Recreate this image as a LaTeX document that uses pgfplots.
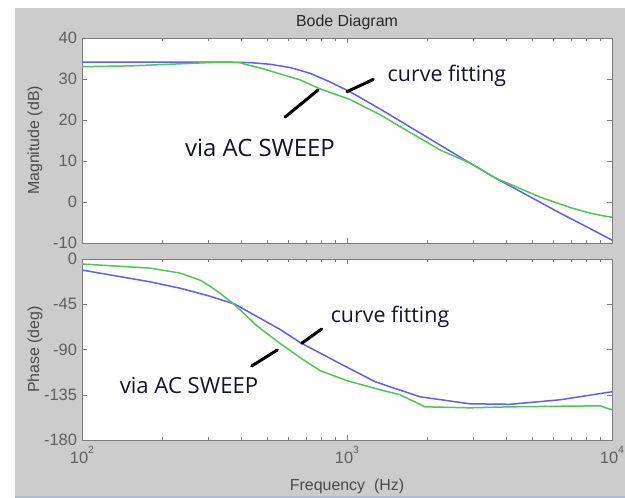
\documentclass[border=0pt]{standalone}
\usepackage{fontspec}
\setmainfont{Liberation Sans}
\newfontfamily\annfont{Open Sans}
\usepackage{pgfplots}
\pgfplotsset{compat=1.18}

\definecolor{bggray}{RGB}{204,204,204}
\definecolor{tickgray}{RGB}{95,95,95}
\definecolor{labelgray}{RGB}{75,75,75}
\definecolor{titlegray}{RGB}{40,40,40}
\definecolor{framegray}{RGB}{125,125,125}
\definecolor{fitblue}{RGB}{95,95,240}
\definecolor{acgreen}{RGB}{85,195,85}
\definecolor{anntext}{RGB}{20,20,40}
\definecolor{edgeblue}{RGB}{175,190,205}

\newcommand\tpow[1]{10\raisebox{1.1ex}{\fontsize{10.5}{10}\selectfont #1}}

\tikzset{
  ann/.style={anchor=base, text=anntext, font=\annfont\fontsize{21.5}{22}\selectfont},
  ptr/.style={line width=3bp, line cap=round, black},
}

\begin{document}
\begin{tikzpicture}
\path[use as bounding box] (0,0) rectangle (625bp,-498bp);
\fill[white] (0,0) rectangle (625bp,-498bp);
\fill[bggray] (15bp,-8bp) rectangle (625bp,-496bp);
\fill[edgeblue] (15bp,-496bp) rectangle (625bp,-498bp);

% magnitude
\begin{axis}[
  at={(82bp,-243bp)}, anchor=south west,
  scale only axis, width=530bp, height=205bp,
  xmode=log, xmin=100, xmax=10000,
  xtick={100,1000,10000},
  minor xtick={200,300,400,500,600,700,800,900,2000,3000,4000,5000,6000,7000,8000,9000},
  axis background/.style={fill=white},
  axis line style={framegray},
  every tick/.style={framegray},
  tick align=inside, major tick length=5bp, minor tick length=3bp,
  tick label style={font=\fontsize{16.5}{17}\selectfont, text=tickgray},
  yticklabel style={xshift=-1.5bp},
  label style={font=\fontsize{16}{18}\selectfont, text=labelgray},
  ylabel style={at={(axis description cs:-0.0887,0.5)}, anchor=center},
  ymin=-10, ymax=40, ytick={-10,0,10,20,30,40},
  yticklabels={-10,0,10,20,30,40},
  xticklabels={},
  ylabel={Magnitude (dB)},
  title={Bode Diagram},
  every axis title shift=0pt,
  title style={at={(axis description cs:0.5,1.054)}, anchor=base,
    font=\fontsize{16}{18}\selectfont, text=titlegray},
]
\addplot[fitblue, line width=1.5bp] coordinates {
  (100,34.1) (150,34.1) (250,34.1) (362,34.1) (430,34.0) (512,33.6)
  (610,32.8) (725,31.4) (862,29.3) (1026,26.9)
  (1332,22.7) (1518,20.5) (2244,13.9) (2912,9.5) (3619,5.9) (4500,2.6)
  (6364,-2.7) (8000,-6.0) (10000,-9.3)};
\addplot[acgreen, line width=1.5bp] coordinates {
  (100,33.0) (152,33.2) (234,33.7) (300,34.0) (362,34.1) (395,34.0)
  (412,33.6) (470,32.7) (610,30.5) (665,29.8) (791,27.6) (1026,25.0)
  (1332,21.3) (1585,18.4) (2244,12.7) (2912,9.5) (3619,5.9) (5349,1.2)
  (7000,-1.4) (8260,-2.7) (9300,-3.4) (10000,-3.7)};
\draw[ptr] (axis cs:583.6,20.7) -- (axis cs:777,27.3);
\draw[ptr] (axis cs:999,26.9) -- (axis cs:1257,29.9);
\node[ann] at (axis cs:2383,29.5) {curve fitting};
\node[ann, font=\annfont\fontsize{24}{24}\selectfont] at (axis cs:469.5,11.2) {via AC SWEEP};
\end{axis}

% phase
\begin{axis}[
  at={(82bp,-440bp)}, anchor=south west,
  scale only axis, width=530bp, height=181bp,
  xmode=log, xmin=100, xmax=10000,
  xtick={100,1000,10000},
  minor xtick={200,300,400,500,600,700,800,900,2000,3000,4000,5000,6000,7000,8000,9000},
  axis background/.style={fill=white},
  axis line style={framegray},
  every tick/.style={framegray},
  tick align=inside, major tick length=5bp, minor tick length=3bp,
  tick label style={font=\fontsize{16.5}{17}\selectfont, text=tickgray},
  yticklabel style={xshift=-1.5bp},
  label style={font=\fontsize{16}{18}\selectfont, text=labelgray},
  ylabel style={at={(axis description cs:-0.0887,0.5)}, anchor=center},
  ymin=-180, ymax=0, ytick={-180,-135,-90,-45,0},
  yticklabels={-180,-135,-90,-45,0},
  xticklabels={\tpow{2},\tpow{3},\tpow{4}},
  xticklabel style={yshift=-3bp},
  ylabel={Phase (deg)},
  xlabel={Frequency\ \ (Hz)},
  xlabel style={at={(axis description cs:0.5,-0.254)}, anchor=center},
]
\addplot[fitblue, line width=1.5bp] coordinates {
  (100,-11) (180,-22.6) (234,-29) (304,-37) (378,-45) (559,-70)
  (665,-83) (941,-104) (1275,-122) (1886,-137) (2912,-144) (4123,-144.5)
  (6364,-140) (10000,-132)};
\addplot[acgreen, line width=1.5bp] coordinates {
  (100,-5) (180,-9) (234,-14) (279,-21) (304,-27) (332,-34) (378,-46)
  (412,-55) (450,-65) (559,-84) (665,-98) (791,-111) (1000,-121)
  (1332,-130) (1585,-135) (1969,-147) (2912,-148) (4123,-147)
  (9010,-146) (10000,-150)};
\draw[ptr] (axis cs:436.9,-106.4) -- (axis cs:545.8,-90.5);
\draw[ptr] (axis cs:674.5,-83.8) -- (axis cs:802.8,-69.6);
\node[ann] at (axis cs:1453,-63.3) {curve fitting};
\node[ann, font=\annfont\fontsize{22.2}{22}\selectfont] at (axis cs:253.4,-133.6) {via AC SWEEP};
\end{axis}
\end{tikzpicture}
\end{document}
